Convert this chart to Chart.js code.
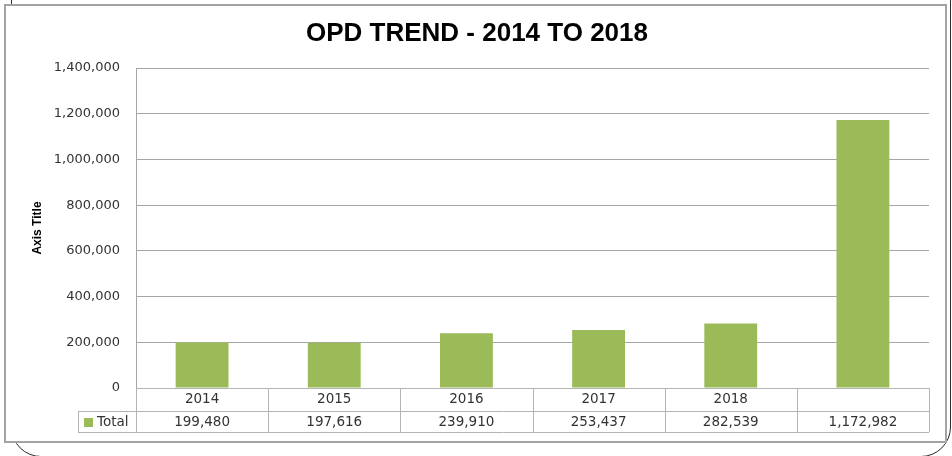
<!DOCTYPE html>
<html>
<head>
<meta charset="utf-8">
<script src="https://cdn.jsdelivr.net/npm/chart.js@4/dist/chart.umd.min.js"></script>
<style>
html,body{margin:0;padding:0;background:#fff;width:952px;height:456px;overflow:hidden;}
#wrap{position:relative;width:952px;height:456px;overflow:hidden;}
#outer{position:absolute;left:11px;top:-120px;width:940px;height:577px;border:1px solid #2a2a2a;border-radius:30px;box-sizing:border-box;}
#box{position:absolute;left:4px;top:4px;width:943px;height:439px;border:2px solid #a3a3a3;background:#fff;box-sizing:border-box;}
#c{position:absolute;left:0;top:0;}
</style>
</head>
<body>
<div id="wrap">
  <div id="outer"></div>
  <div id="box"></div>
  <canvas id="c" width="952" height="456"></canvas>
</div>
<script>
// ---- data ----
const chartTitle = 'OPD TREND - 2014 TO 2018';
const axisTitle = 'Axis Title';
const seriesName = 'Total';
const categories = ['2014', '2015', '2016', '2017', '2018', ''];
const totals = [199480, 197616, 239910, 253437, 282539, 1172982];
const yMin = 0;
const yMax = 1400000;
const yStep = 200000;

// ---- styles ----
const BAR_COLOR = '#9BBB59';
const GRID_COLOR = '#a6a6a6';
const TABLE_COLOR = '#b4b4b4';
const TEXT_COLOR = '#333333';
const FONT = "'DejaVu Sans', Verdana, sans-serif";
const TITLE_FONT = "'Liberation Sans', Arial, sans-serif";
const fmt = v => Number(v).toLocaleString('en-US');

const tablePlugin = {
  id: 'dataTable',
  afterDraw(chart) {
    const ctx = chart.ctx;
    const xs = chart.scales.x;
    const area = chart.chartArea;
    const n = categories.length;
    const cw = (area.right - area.left) / n;
    const r0 = area.bottom, r1 = r0 + 23, r2 = r1 + 21;
    const legendLeft = 78;
    ctx.save();
    ctx.strokeStyle = TABLE_COLOR;
    ctx.lineWidth = 1;
    ctx.beginPath();
    // horizontal lines
    ctx.moveTo(area.left, r0 + 0.5); ctx.lineTo(area.right, r0 + 0.5);
    ctx.moveTo(legendLeft, r1 + 0.5); ctx.lineTo(area.right, r1 + 0.5);
    ctx.moveTo(legendLeft, r2 + 0.5); ctx.lineTo(area.right, r2 + 0.5);
    // vertical lines at category boundaries
    for (let i = 0; i <= n; i++) {
      const bx = Math.round(xs.getPixelForValue(Math.min(i, n - 1)) + (i === n ? cw / 2 : -cw / 2)) + 0.5;
      ctx.moveTo(bx, r0); ctx.lineTo(bx, r2);
    }
    ctx.moveTo(legendLeft + 0.5, r1); ctx.lineTo(legendLeft + 0.5, r2);
    ctx.stroke();

    // legend key
    ctx.fillStyle = BAR_COLOR;
    ctx.fillRect(84, r1 + 7, 9, 9);
    ctx.fillStyle = TEXT_COLOR;
    ctx.font = '13.5px ' + FONT;
    ctx.textBaseline = 'middle';
    ctx.textAlign = 'left';
    ctx.fillText(seriesName, 97, (r1 + r2) / 2 + 1);

    // values
    ctx.textAlign = 'center';
    totals.forEach((v, i) => {
      ctx.fillText(fmt(v), xs.getPixelForValue(i), (r1 + r2) / 2 + 1);
    });

    // chart title
    ctx.fillStyle = '#000';
    ctx.font = 'bold 26px ' + TITLE_FONT;
    ctx.textAlign = 'center';
    ctx.fillText(chartTitle, 477, 34);
    ctx.restore();
  }
};

new Chart(document.getElementById('c'), {
  type: 'bar',
  data: {
    labels: categories,
    datasets: [{
      label: seriesName,
      data: totals,
      backgroundColor: BAR_COLOR,
      borderWidth: 0,
      categoryPercentage: 1.0,
      barPercentage: 0.4
    }]
  },
  options: {
    responsive: false,
    animation: false,
    devicePixelRatio: 1,
    layout: { padding: { left: 0, right: 23, top: 68, bottom: 24 } },
    plugins: {
      legend: { display: false },
      title: { display: false },
      tooltip: { enabled: false }
    },
    scales: {
      x: {
        grid: { display: false, drawTicks: false },
        border: { display: false },
        ticks: { color: TEXT_COLOR, font: { family: FONT, size: 13.5 }, padding: 3, maxRotation: 0, autoSkip: false },
        afterFit: s => { s.height = 44; }
      },
      y: {
        min: yMin, max: yMax,
        ticks: { stepSize: yStep, padding: 16, color: TEXT_COLOR, font: { family: FONT, size: 13 }, callback: v => fmt(v) },
        grid: { color: GRID_COLOR, drawTicks: false },
        border: { color: GRID_COLOR },
        title: { display: true, text: axisTitle, color: '#000', font: { family: TITLE_FONT, size: 12, weight: 'bold' }, padding: { top: 30, bottom: 0 } },
        afterFit: s => { s.width = 136; }
      }
    }
  },
  plugins: [tablePlugin]
});
</script>
</body>
</html>
